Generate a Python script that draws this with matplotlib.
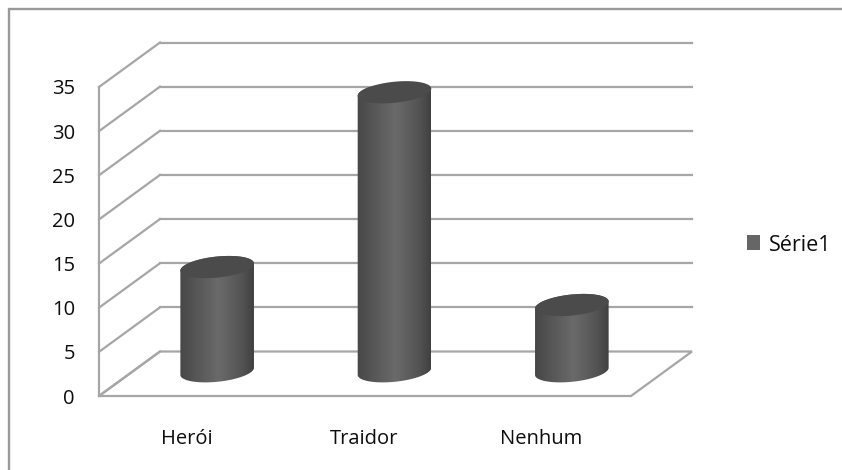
import numpy as np
import matplotlib
matplotlib.use("Agg")
import matplotlib.pyplot as plt
from matplotlib.patches import Polygon, PathPatch
from matplotlib.lines import Line2D
from matplotlib.patches import Rectangle
from matplotlib.path import Path
from matplotlib.colors import LinearSegmentedColormap

categories = ["Herói", "Traidor", "Nenhum"]
values = [11.8, 31.6, 7.5]
yticks = [0, 5, 10, 15, 20, 25, 30, 35]
series_name = "Série1"

W, H = 842, 470
plt.rcParams['font.family'] = ['Open Sans', 'DejaVu Sans']
fig = plt.figure(figsize=(W/100, H/100), dpi=100)

# front plane of the 3-D box, in pixels
L, R, T, B = 99, 631, 87, 396
ax = fig.add_axes([L/W, 1-B/H, (R-L)/W, (B-T)/H])
ax.set_xlim(0, 3)
ax.set_ylim(0, 35)
ax.axis('off')

px_x = 3/(R-L)
px_y = 35/(B-T)
dx = 61*px_x   # depth offset
dy = 44.5*px_y
GRID = '#a6a6a6'
lw = 1.6
TXT = '#0d0d0d'
FS = 14.5

for t in yticks:
    if t > 0:
        ax.plot([dx, 3+dx], [t+dy, t+dy], color=GRID, lw=lw, clip_on=False, zorder=1)
    ax.plot([0, dx], [t, t+dy], color=GRID, lw=lw, clip_on=False, zorder=1)
    ax.text(-24*px_x, t-2.5*px_y, str(t), ha='right', va='center', fontsize=FS, color=TXT, clip_on=False)

# floor
ax.add_patch(Polygon([[0, 0], [3, 0], [3+dx, dy], [dx, dy]], closed=True, fill=False,
                     ec=GRID, lw=lw, clip_on=False, zorder=1, joinstyle='miter'))
ax.plot([0, 0], [0, 35], color=GRID, lw=lw, clip_on=False, zorder=1)

# cylinders
cmap = LinearSegmentedColormap.from_list('cyl', [(0, '#474747'), (0.25, '#585858'), (0.52, '#6a6a6a'),
                                                 (0.85, '#525252'), (1, '#404040')])
grad = np.linspace(0, 1, 256).reshape(1, -1)
a_px, b_px, tilt = 37.0, 10.5, np.deg2rad(6)


def ell(cx, cy, th):
    ex = a_px*np.cos(th)
    ey = b_px*np.sin(th)
    xp = ex*np.cos(tilt) - ey*np.sin(tilt)
    yp = ex*np.sin(tilt) + ey*np.cos(tilt)
    return np.column_stack([cx + xp*px_x, cy + yp*px_y])


base = dy/2 + 2.5*px_y
for i, v in enumerate(values):
    cx = i + 0.5 + dx/2 - 1*px_x
    top = base + v
    lower = ell(cx, base, np.linspace(np.pi, 2*np.pi, 60))
    upper = ell(cx, top, np.linspace(0, np.pi, 60))
    body = np.vstack([lower, upper, lower[:1]])
    hw = a_px*px_x
    im = ax.imshow(grad, extent=[cx-hw, cx+hw, base-3, top+3], cmap=cmap, vmin=0, vmax=1,
                   aspect='auto', zorder=3, interpolation='bilinear')
    clip = PathPatch(Path(body), transform=ax.transData, fc='none', ec='none')
    ax.add_patch(clip)
    im.set_clip_path(clip)
    ax.add_patch(Polygon(ell(cx, top, np.linspace(0, 2*np.pi, 120)), closed=True,
                         fc='#4b4b4b', ec='none', zorder=4, clip_on=False))
    ax.text(i+0.5-1*px_x, -43*px_y, categories[i], ha='center', va='center', fontsize=FS,
            color=TXT, clip_on=False)
ax.set_xlim(0, 3)
ax.set_ylim(0, 35)

# outer frame (only the top and left edges fall inside the picture) and legend
FRAME = '#999999'
fig.add_artist(Line2D([9/W, 9/W, 1], [0, 1-9/H, 1-9/H], transform=fig.transFigure,
                      color=FRAME, lw=1.7, solid_joinstyle='miter'))
fig.add_artist(Rectangle((747/W, 1-250/H), 13/W, 15/H, transform=fig.transFigure,
                         fc='#666666', ec='none'))
fig.text(769/W, 1-245/H, series_name, ha='left', va='center', fontsize=15.5, color=TXT)

fig.savefig('out.png', dpi=100)
